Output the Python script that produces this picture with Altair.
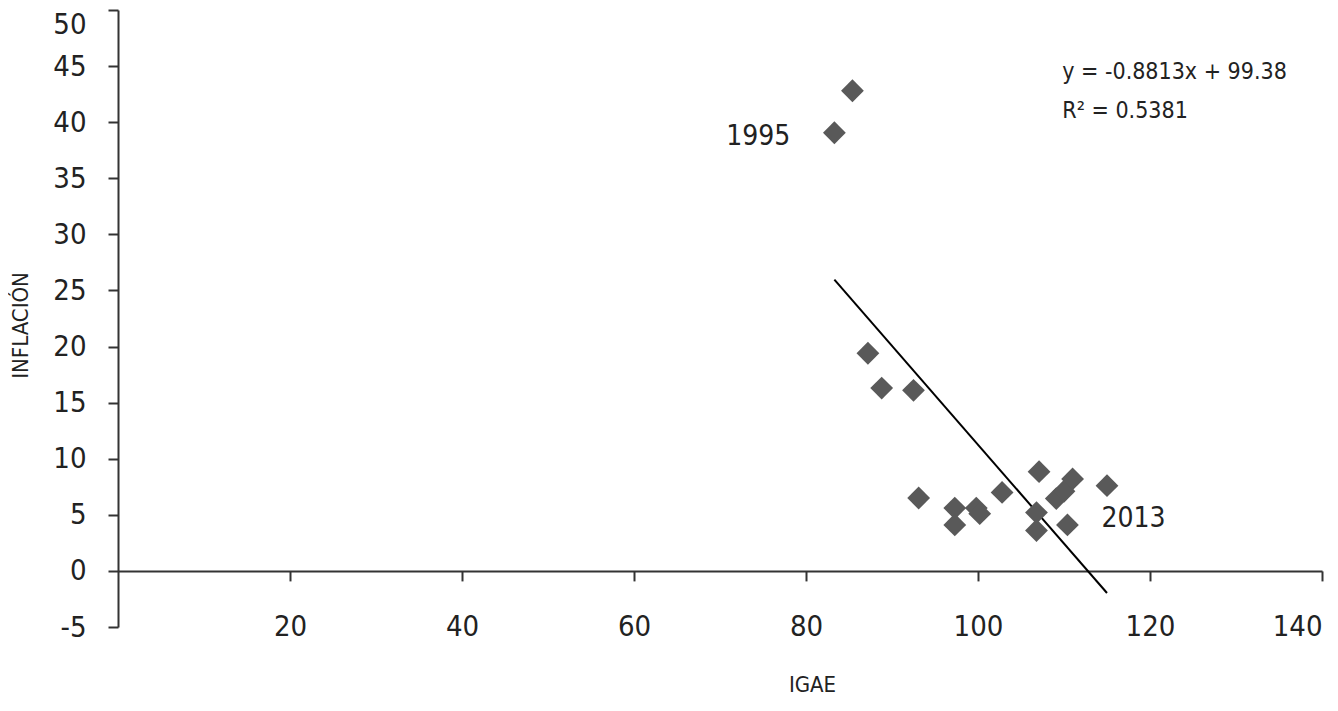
import altair as alt
import pandas as pd

# ---- data ----
igae = [83.3, 85.4, 87.2, 88.8, 92.5, 93.1, 97.3, 97.3, 99.8, 100.2,
        102.8, 107.1, 106.8, 106.8, 109.1, 110.0, 111.0, 110.4, 115.0]
inflacion = [39.06, 42.8, 19.4, 16.3, 16.1, 6.5, 5.6, 4.1, 5.6, 5.1,
             7.0, 8.85, 5.2, 3.6, 6.45, 7.1, 8.2, 4.1, 7.6]
etiqueta = ["1995", "", "", "", "", "", "", "", "", "",
            "", "", "", "", "", "", "", "2013", ""]

slope = -0.8813
intercept = 99.38
r2 = 0.5381
eq_lines = [f"y = {slope}x + {intercept}", f"R\u00b2 = {r2}"]

x_ticks = [20, 40, 60, 80, 100, 120, 140]
y_ticks = [-5, 0, 5, 10, 15, 20, 25, 30, 35, 40, 45, 50]

FONT = "DejaVu Sans Condensed, Roboto, sans-serif"
TXT = "#222222"
AX = "#333333"

df = pd.DataFrame({"IGAE": igae, "INF": inflacion, "label": etiqueta})
trend = pd.DataFrame({"IGAE": [min(igae), max(igae)]})
eq = pd.DataFrame({"text": eq_lines, "order": [0, 1]})

W, H = 1204, 617
y0_offset = -H * 5 / 55  # x axis sits at y = 0

xscale = alt.Scale(domain=[0, 140], nice=False, zero=False)
yscale = alt.Scale(domain=[-5, 50], nice=False, zero=False)

xaxis = alt.Axis(values=x_ticks, title="IGAE", offset=y0_offset, grid=False,
                 labelExpr="'' + datum.value", labelFlush=True,
                 domainColor=AX, domainWidth=2, tickColor=AX, tickWidth=2, tickSize=10,
                 labelFont=FONT, labelFontSize=29, labelColor=TXT, labelPadding=32,
                 titleFont=FONT, titleFontSize=22, titleFontWeight="normal", titleColor=TXT,
                 titleX=694, titleY=121, titleBaseline="alphabetic", titleAlign="center")
yaxis = alt.Axis(values=y_ticks, title="INFLACIÓN", grid=False,
                 labelExpr="'' + datum.value",
                 labelOffset={"condition": {"test": "datum.value == 50", "value": 14}, "value": 0},
                 domainColor=AX, domainWidth=2, tickColor=AX, tickWidth=2, tickSize=10,
                 labelFont=FONT, labelFontSize=29, labelColor=TXT, labelPadding=22,
                 titleFont=FONT, titleFontSize=22, titleFontWeight="normal", titleColor=TXT,
                 titleX=-98, titleY=315, titleBaseline="middle", titleAlign="center",
                 titleAngle=270)

points = alt.Chart(df).mark_point(shape="diamond", filled=True, size=520,
                                  color="#595959", opacity=1).encode(
    x=alt.X("IGAE:Q", scale=xscale, axis=xaxis),
    y=alt.Y("INF:Q", scale=yscale, axis=yaxis),
)

line = alt.Chart(trend).transform_calculate(
    INF=f"{slope} * datum.IGAE + {intercept}"
).mark_line(color="black", strokeWidth=2).encode(
    x=alt.X("IGAE:Q", scale=xscale),
    y=alt.Y("INF:Q", scale=yscale),
)

lab_left = alt.Chart(df).transform_filter("datum.label == '1995'").mark_text(
    align="right", baseline="middle", dx=-44, dy=4, font=FONT, fontSize=28, color=TXT
).encode(x=alt.X("IGAE:Q", scale=xscale), y=alt.Y("INF:Q", scale=yscale), text="label:N")

lab_right = alt.Chart(df).transform_filter("datum.label == '2013'").mark_text(
    align="left", baseline="middle", dx=34, dy=-6, font=FONT, fontSize=28, color=TXT
).encode(x=alt.X("IGAE:Q", scale=xscale), y=alt.Y("INF:Q", scale=yscale), text="label:N")

eq_text = alt.Chart(eq).transform_calculate(
    ex="109.8", ey="44.5 - 3.5 * datum.order"
).mark_text(align="left", baseline="middle", font=FONT, fontSize=23, color=TXT).encode(
    x=alt.X("ex:Q", scale=xscale), y=alt.Y("ey:Q", scale=yscale), text="text:N"
)

chart = alt.layer(line, points, lab_left, lab_right, eq_text).properties(
    width=W, height=H,
    autosize=alt.AutoSizeParams(type="none"),
    padding={"left": 110, "top": 2, "right": 6, "bottom": 72},
    background="white",
).configure_view(stroke=None)

chart.save("out.html", embed_options={"renderer": "svg", "actions": False})
